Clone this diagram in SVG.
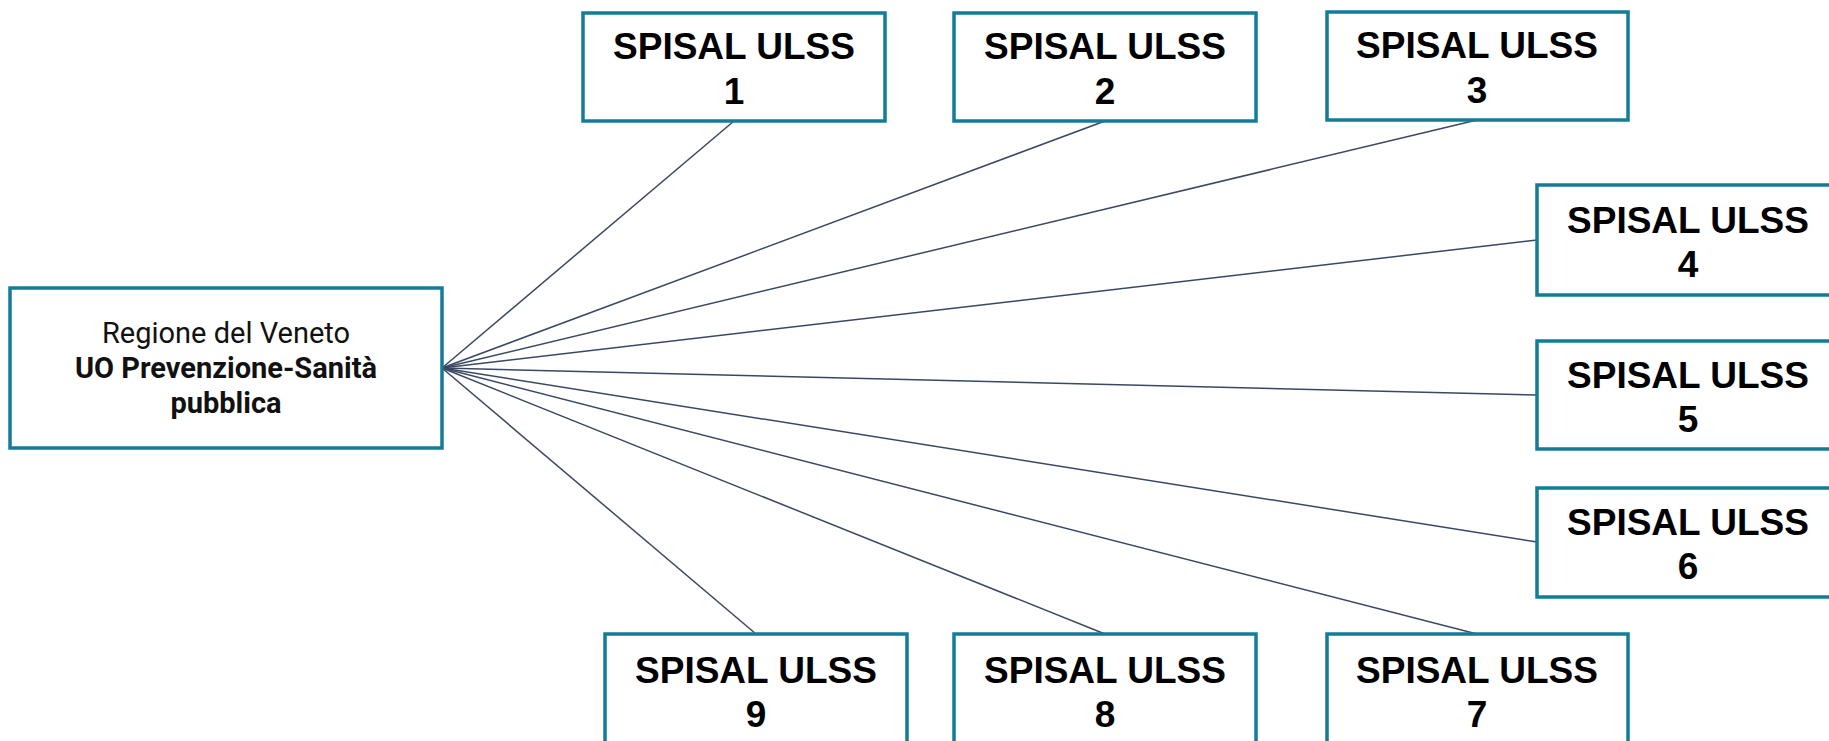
<svg xmlns="http://www.w3.org/2000/svg" width="1829" height="741" viewBox="0 0 1829 741">
<style>
.box{fill:#fff;stroke:#137D98;stroke-width:3.5}
.lbl{font-family:"Liberation Sans",Arial,sans-serif;font-weight:bold;font-size:37px;fill:#000;text-anchor:middle}
.reg{font-family:Roboto,"Liberation Sans",sans-serif;font-size:29px;fill:#111;text-anchor:middle}
.conn line{stroke:#3A4862;stroke-width:1.5}
</style>
<rect width="1829" height="741" fill="#fff"/>
<g id="connectors" class="conn">
<line x1="442" y1="368" x2="734" y2="121"/>
<line x1="442" y1="368" x2="1105" y2="121"/>
<line x1="442" y1="368" x2="1477" y2="120"/>
<line x1="442" y1="368" x2="1537" y2="240"/>
<line x1="442" y1="368" x2="1537" y2="395"/>
<line x1="442" y1="368" x2="1537" y2="542"/>
<line x1="442" y1="368" x2="1477" y2="634"/>
<line x1="442" y1="368" x2="1105" y2="634"/>
<line x1="442" y1="368" x2="756" y2="634"/>
</g>
<g id="regione">
<rect class="box" x="10" y="288" width="432" height="160"/>
<text class="reg" x="226" y="343">Regione del Veneto</text>
<text class="reg" x="226" y="378" font-weight="bold">UO Prevenzione-Sanità</text>
<text class="reg" x="226" y="413" font-weight="bold">pubblica</text>
</g>
<g id="ulss1">
<rect class="box" x="583" y="13" width="302" height="108"/>
<text class="lbl" x="734" y="59">SPISAL ULSS</text>
<text class="lbl" x="734" y="104">1</text>
</g>
<g id="ulss2">
<rect class="box" x="954" y="13" width="302" height="108"/>
<text class="lbl" x="1105" y="59">SPISAL ULSS</text>
<text class="lbl" x="1105" y="104">2</text>
</g>
<g id="ulss3">
<rect class="box" x="1327" y="12" width="301" height="108"/>
<text class="lbl" x="1477" y="58">SPISAL ULSS</text>
<text class="lbl" x="1477" y="103">3</text>
</g>
<g id="ulss4">
<rect class="box" x="1537" y="185" width="302" height="110"/>
<text class="lbl" x="1688" y="233">SPISAL ULSS</text>
<text class="lbl" x="1688" y="277">4</text>
</g>
<g id="ulss5">
<rect class="box" x="1537" y="341" width="302" height="108"/>
<text class="lbl" x="1688" y="388">SPISAL ULSS</text>
<text class="lbl" x="1688" y="432">5</text>
</g>
<g id="ulss6">
<rect class="box" x="1537" y="488" width="302" height="109"/>
<text class="lbl" x="1688" y="535">SPISAL ULSS</text>
<text class="lbl" x="1688" y="579">6</text>
</g>
<g id="ulss7">
<rect class="box" x="1327" y="634" width="301" height="110"/>
<text class="lbl" x="1477" y="683">SPISAL ULSS</text>
<text class="lbl" x="1477" y="727">7</text>
</g>
<g id="ulss8">
<rect class="box" x="954" y="634" width="302" height="110"/>
<text class="lbl" x="1105" y="683">SPISAL ULSS</text>
<text class="lbl" x="1105" y="727">8</text>
</g>
<g id="ulss9">
<rect class="box" x="605" y="634" width="302" height="110"/>
<text class="lbl" x="756" y="683">SPISAL ULSS</text>
<text class="lbl" x="756" y="727">9</text>
</g>
</svg>
